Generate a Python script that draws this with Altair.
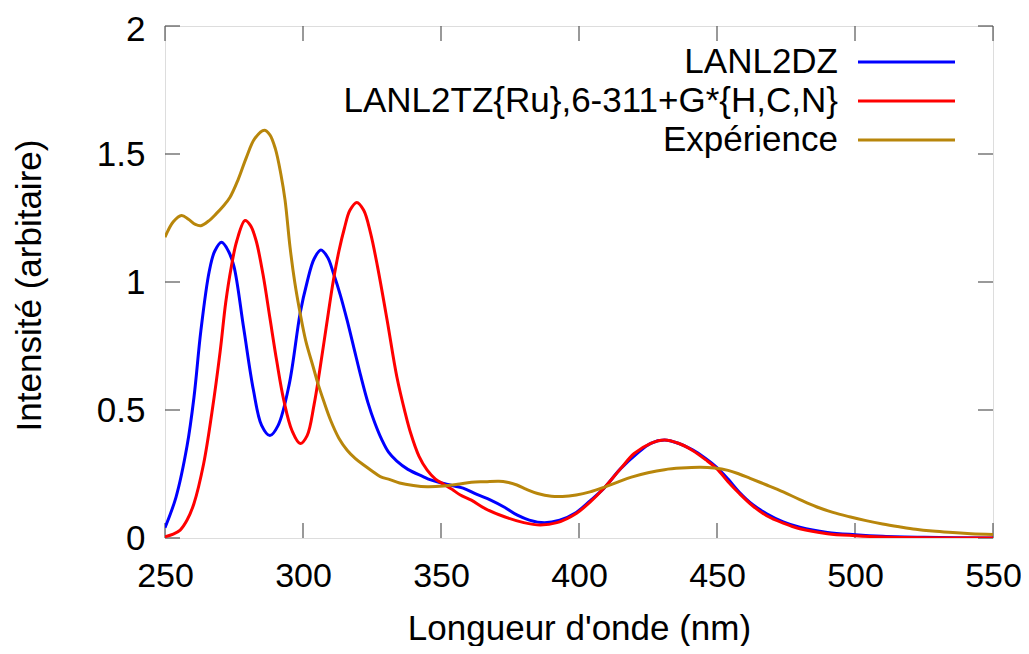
import altair as alt
import pandas as pd

# LANL2DZ (blue)
blue_x = [250, 254, 258, 260.5, 263, 266, 268, 270.5, 273, 275, 278.5, 282, 285, 288, 291, 295, 299, 301.5, 304,
          306.5, 309, 311, 313.5, 316, 318.5, 321, 323.5, 326, 328.5, 331, 334, 338, 343.5, 346, 352, 358, 363, 368,
          373, 377.5, 382, 387.5, 393, 399, 404, 409, 415, 421, 426, 431, 436, 441, 446, 450, 454, 458, 463, 468, 474,
          480, 490, 500, 510, 525, 550]
blue_y = [0.04, 0.16, 0.36, 0.55, 0.81, 1.04, 1.12, 1.155, 1.12, 1.06, 0.82, 0.58, 0.44, 0.40, 0.44, 0.60, 0.88,
          1.00, 1.09, 1.125, 1.095, 1.035, 0.95, 0.85, 0.74, 0.63, 0.53, 0.45, 0.385, 0.335, 0.30, 0.268, 0.24, 0.228,
          0.21, 0.195, 0.17, 0.148, 0.12, 0.09, 0.07, 0.06, 0.07, 0.10, 0.145, 0.194, 0.27, 0.33, 0.37, 0.383, 0.37,
          0.345, 0.31, 0.275, 0.23, 0.18, 0.13, 0.095, 0.063, 0.042, 0.022, 0.013, 0.007, 0.003, 0.0]

# LANL2TZ{Ru},6-311+G*{H,C,N} (red)
red_x = [250, 253, 255.5, 258, 260.5, 264, 267, 270, 272, 274, 276, 279, 281, 283, 285.5, 288, 290.5, 293, 296, 299,
         301.5, 304, 306, 308.5, 311, 313, 315, 317, 319.5, 322, 324.5, 327, 330.5, 334, 337, 339, 342, 345, 348, 351,
         354, 357, 361, 366, 373, 380, 386, 392, 399, 404, 409, 415, 420, 426, 431, 436, 441, 446, 450, 454, 458, 463,
         468, 474, 480, 490, 500, 510, 525, 550]
red_y = [0.005, 0.015, 0.031, 0.07, 0.135, 0.29, 0.49, 0.73, 0.92, 1.058, 1.16, 1.24, 1.22, 1.162, 1.03, 0.86, 0.69,
         0.54, 0.42, 0.369, 0.40, 0.52, 0.65, 0.83, 1.006, 1.12, 1.21, 1.28, 1.311, 1.28, 1.19, 1.06, 0.85, 0.63, 0.49,
         0.41, 0.32, 0.265, 0.23, 0.21, 0.19, 0.168, 0.148, 0.115, 0.083, 0.06, 0.051, 0.06, 0.096, 0.14, 0.194, 0.27,
         0.33, 0.37, 0.383, 0.37, 0.343, 0.305, 0.27, 0.22, 0.175, 0.125, 0.087, 0.058, 0.036, 0.017, 0.009, 0.004,
         0.001, 0.0]

# Expérience (dark goldenrod)
exp_x = [250, 253, 256, 258.5, 261, 263, 266, 268.5, 271, 273.5, 276.5, 279.5, 282.5, 286, 288, 290, 292, 293.5,
         295.3, 297, 299, 301, 303.7, 305.5, 307.5, 310, 313, 316, 319, 322, 325, 328, 331.5, 335, 340, 345, 351, 356,
         361, 366, 371, 374, 377.5, 381, 385, 390, 394, 399, 404, 409, 414, 419, 425, 431, 437, 444, 449, 454, 458,
         462, 468, 474, 480, 486, 492, 498, 504, 510, 516, 522, 528, 534, 542, 550]
exp_y = [1.175, 1.235, 1.26, 1.245, 1.225, 1.22, 1.24, 1.266, 1.295, 1.33, 1.40, 1.487, 1.56, 1.593, 1.575, 1.52,
         1.42, 1.32, 1.136, 1.0, 0.876, 0.77, 0.668, 0.60, 0.535, 0.46, 0.39, 0.343, 0.31, 0.285, 0.262, 0.24, 0.228,
         0.215, 0.205, 0.2, 0.203, 0.21, 0.218, 0.22, 0.222, 0.218, 0.207, 0.19, 0.174, 0.163, 0.162, 0.168, 0.18,
         0.198, 0.218, 0.238, 0.255, 0.267, 0.273, 0.276, 0.273, 0.264, 0.25, 0.233, 0.207, 0.18, 0.15, 0.122, 0.1,
         0.083, 0.068, 0.055, 0.044, 0.034, 0.027, 0.022, 0.017, 0.014]

series_names = ["LANL2DZ", "LANL2TZ{Ru},6-311+G*{H,C,N}", "Expérience"]
series_colors = ["#0000ff", "#ff0000", "#b8860b"]

x_ticks = [250, 300, 350, 400, 450, 500, 550]
y_ticks = [0, 0.5, 1, 1.5, 2]

FONT = "Liberation Sans, Arial, Helvetica, sans-serif"
FS = 35
W, H = 828, 512

xscale = alt.Scale(domain=[250, 550], nice=False, zero=False)
yscale = alt.Scale(domain=[0, 2], nice=False)

def line_layer(xs, ys, color):
    df = pd.DataFrame({"x": xs, "y": ys})
    return alt.Chart(df).mark_line(color=color, strokeWidth=3, interpolate="catmull-rom", clip=True).encode(
        x=alt.X("x:Q", scale=xscale,
                axis=alt.Axis(title="Longueur d'onde (nm)", values=x_ticks, format="d", ticks=False,
                              domain=False, grid=False, labelFontSize=34, labelFont=FONT, labelColor="black",
                              labelOverlap=False, labelFlush=False,
                              labelPadding=21, titleFontSize=FS, titleFont=FONT, titleFontWeight="normal",
                              titleColor="black", titleX=W / 2, titleY=101, titleBaseline="alphabetic")),
        y=alt.Y("y:Q", scale=yscale,
                axis=alt.Axis(title="Intensité (arbitaire)", values=y_ticks, format="~g", ticks=False,
                              domain=False, grid=False, labelFontSize=FS, labelFont=FONT, labelColor="black",
                              labelPadding=20, labelFlush=False, titleFontSize=FS, titleFont=FONT,
                              labelOffset=alt.expr("datum.value == 2 ? 3 : 0"),
                              titleFontWeight="normal",
                              titleColor="black", titleX=-125, titleY=259, titleBaseline="alphabetic")),
    )

lines = [line_layer(blue_x, blue_y, series_colors[0]),
         line_layer(red_x, red_y, series_colors[1]),
         line_layer(exp_x, exp_y, series_colors[2])]

# inward ticks (gnuplot style, mirrored)
xt = pd.DataFrame({"x": x_ticks})
yt = pd.DataFrame({"y": y_ticks})
TICK = "#555555"
TL = 15
tick_layers = [
    alt.Chart(xt).mark_rule(color=TICK, strokeWidth=1.2).encode(x=alt.X("x:Q", scale=xscale), y=alt.value(H), y2=alt.value(H - TL)),
    alt.Chart(xt).mark_rule(color=TICK, strokeWidth=1.2).encode(x=alt.X("x:Q", scale=xscale), y=alt.value(0), y2=alt.value(TL)),
    alt.Chart(yt).mark_rule(color=TICK, strokeWidth=1.2).encode(y=alt.Y("y:Q", scale=yscale), x=alt.value(0), x2=alt.value(TL)),
    alt.Chart(yt).mark_rule(color=TICK, strokeWidth=1.2).encode(y=alt.Y("y:Q", scale=yscale), x=alt.value(W), x2=alt.value(W - TL)),
]

# legend (gnuplot style: text right-aligned, sample line on the right)
legend_rows_y = [36, 75, 114]
legend_layers = []
for name, color, ly in zip(series_names, series_colors, legend_rows_y):
    ldf = pd.DataFrame({"label": [name]})
    legend_layers.append(
        alt.Chart(ldf).mark_text(align="right", baseline="middle", fontSize=FS, font=FONT, color="black").encode(
            text="label:N", x=alt.value(673), y=alt.value(ly)))
    legend_layers.append(
        alt.Chart(ldf).mark_rule(color=color, strokeWidth=3).encode(
            x=alt.value(693), x2=alt.value(790), y=alt.value(ly)))

chart = alt.layer(*tick_layers, *lines, *legend_layers).properties(
    width=W, height=H,
    autosize=alt.AutoSizeParams(type="none"),
    padding={"left": 157, "top": 18, "right": 28, "bottom": 108},
).configure_view(stroke="#333333", strokeWidth=1.5).configure(background="white")

chart.save("out.html", embed_options={"renderer": "svg", "actions": False})
